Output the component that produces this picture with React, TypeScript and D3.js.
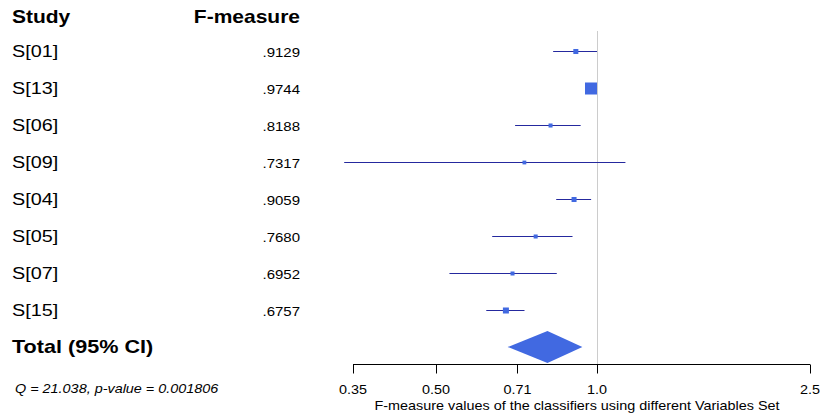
import React from "react";
import * as d3 from "d3";

const studies = ["S[01]", "S[13]", "S[06]", "S[09]", "S[04]", "S[05]", "S[07]", "S[15]"];
const fmeasure = [0.9129, 0.9744, 0.8188, 0.7317, 0.9059, 0.768, 0.6952, 0.6757];
const ciLower = [0.828, 0.955, 0.703, 0.337, 0.839, 0.637, 0.53, 0.621];
const ciUpper = [1.0, 0.995, 0.932, 1.13, 0.975, 0.9, 0.841, 0.732];
const weights = [7, 40, 4.5, 4, 7, 4.5, 4.5, 10];
const pooled = [0.681, 0.808, 0.939];
const tickValues = [0.35, 0.5, 0.71, 1.0, 2.5];
const tickLabels = ["0.35", "0.50", "0.71", "1.0", "2.5"];
const totalLabel = "Total (95% CI)";
const heterogeneity = "Q = 21.038, p-value = 0.001806";
const axisTitle = "F-measure values of the classifiers using different Variables Set";

const W = 822;
const H = 415;
const SX = 1.2;
const FONT = "'Liberation Sans', Arial, Helvetica, sans-serif";

function T(props: any) {
  const { x, y, anchor = "start", size = 12, weight = "normal", italic = false, children } = props;
  return (
    <text
      transform={`translate(${x},${y}) scale(${SX},1)`}
      textAnchor={anchor}
      dominantBaseline="central"
      fontFamily={FONT}
      fontSize={size}
      fontWeight={weight}
      fontStyle={italic ? "italic" : "normal"}
      fill="#000"
    >
      {children}
    </text>
  );
}

export default function App() {
  const x = d3.scaleLog().domain([0.35, 2.5]).range([353, 810]);
  const y = d3.scalePoint<string>().domain([...studies, totalLabel]).range([51, 347]);
  const size = d3.scaleSqrt().domain([0, 40]).range([0, 12]);
  const fmt = (v: number) => d3.format(".4f")(v).replace(/^0/, "");
  const axisY = 364.5;
  const yTot = y(totalLabel)!;
  const dh = 16;
  const diamond = `M${x(pooled[0])},${yTot} L${x(pooled[1])},${yTot - dh} L${x(pooled[2])},${yTot} L${x(pooled[1])},${yTot + dh} Z`;
  const xr = Math.round(x(1)) + 0.5;

  return (
    <svg width={W} height={H} style={{ position: "absolute", left: 0, top: 0, background: "#fff" }}>
      <rect width={W} height={H} fill="#fff" />
      <T x={12} y={17} size={17.5} weight="bold">Study</T>
      <T x={300} y={17} size={17.5} weight="bold" anchor="end">F-measure</T>

      <line x1={xr} x2={xr} y1={31} y2={axisY} stroke="#cccccc" strokeWidth={1} />

      {studies.map((s, i) => {
        const yy = Math.round(y(s)!) + 0.5;
        const sz = size(weights[i]);
        return (
          <g key={s}>
            <T x={12} y={yy} size={16.5}>{s}</T>
            <T x={300} y={yy + 1} size={12.5} anchor="end">{fmt(fmeasure[i])}</T>
            <line x1={x(ciLower[i])} x2={x(ciUpper[i])} y1={yy} y2={yy} stroke="#25299e" strokeWidth={1} />
            <rect x={x(fmeasure[i]) - sz / 2} y={yy - sz / 2} width={sz} height={sz} fill="#4169e1" />
          </g>
        );
      })}

      <T x={12} y={yTot} size={18} weight="bold">{totalLabel}</T>
      <path d={diamond} fill="#4169e1" />

      <T x={15} y={389} size={12} italic>{heterogeneity}</T>

      <line x1={x(0.35)} x2={x(2.5)} y1={axisY} y2={axisY} stroke="#000" strokeWidth={1} />
      {tickValues.map((t, i) => {
        const tx = Math.round(x(t)) + 0.5;
        return (
          <g key={t}>
            <line x1={tx} x2={tx} y1={axisY} y2={axisY + 9} stroke="#000" strokeWidth={1} />
            <T x={x(t)} y={390} size={12} anchor="middle">{tickLabels[i]}</T>
          </g>
        );
      })}
      <T x={577} y={406} size={12} anchor="middle">{axisTitle}</T>
    </svg>
  );
}
